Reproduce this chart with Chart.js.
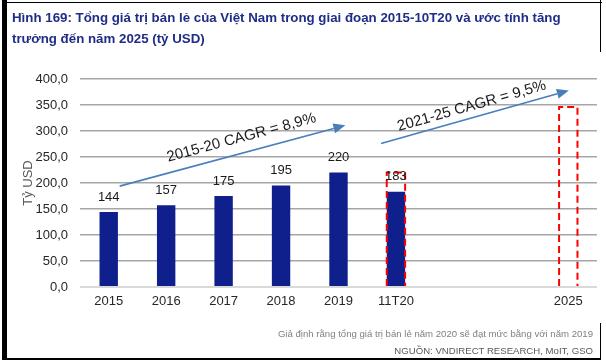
<!DOCTYPE html>
<html>
<head>
<meta charset="utf-8">
<script src="https://cdn.jsdelivr.net/npm/chart.js@4/dist/chart.umd.min.js"></script>
<style>
  html, body { margin: 0; padding: 0; background: #fff; }
  #wrap { position: relative; width: 606px; height: 364px; overflow: hidden; font-family: "Liberation Sans", Arial, sans-serif; }
  #c { position: absolute; left: 0; top: 0; }
  .title { position: absolute; left: 12px; font-weight: bold; font-size: 13.3px; color: #1f2d86; white-space: nowrap; line-height: 16px; }
  .foot { position: absolute; right: 13px; font-size: 9.6px; white-space: nowrap; line-height: 12px; }
  .b { position: absolute; background: #000; }
</style>
</head>
<body>
<div id="wrap">
  <canvas id="c" width="606" height="364"></canvas>
  <div class="title" style="top:10px;">Hình 169: Tổng giá trị bán lẻ của Việt Nam trong giai đoạn 2015-10T20 và ước tính tăng</div>
  <div class="title" style="top:31px;">trưởng đến năm 2025 (tỷ USD)</div>
  <div class="foot" style="top:328px; color:#808080;">Giả định rằng tổng giá trị bán lẻ năm 2020 sẽ đạt mức bằng với năm 2019</div>
  <div class="foot" style="top:345px; color:#595959;">NGUỒN: VNDIRECT RESEARCH, MoIT, GSO</div>
  <div class="b" style="left:2px; top:0; width:5px; height:360px;"></div>
  <div class="b" style="left:2px; top:2px; width:600px; height:1px;"></div>
  <div class="b" style="left:600px; top:0; width:1px; height:52px;"></div>
  <div class="b" style="left:600px; top:323px; width:1px; height:36px;"></div>
  <div class="b" style="left:2px; top:358px; width:599px; height:2px;"></div>
</div>
<script>
// ---- data ----
const categories = ['2015', '2016', '2017', '2018', '2019', '11T20', '', '', '2025'];
const retailValues = [144, 157, 175, 195, 220, 183, null, null, null];
const projectedValues = [null, null, null, null, null, 220, null, null, 346];
const cagrLabels = ['2015-20 CAGR = 8,9%', '2021-25 CAGR = 9,5%'];

// annotation anchors in data space (category index, value)
const cagrArrows = [
  { from: [0.19, 194], to: [4.12, 311], text: [2.31, 287] },
  { from: [4.74, 276], to: [8.01, 378], text: [6.32, 348] }
];

const fmt = v => v.toFixed(1).replace('.', ',');

const overlay = {
  id: 'overlay',
  afterDatasetsDraw(chart) {
    const ctx = chart.ctx;
    const xs = chart.scales.x, ys = chart.scales.y;
    // dashed projection boxes
    const meta1 = chart.getDatasetMeta(1);
    ctx.save();
    ctx.strokeStyle = '#ff0000';
    ctx.lineWidth = 2;
    ctx.setLineDash([7, 4]);
    meta1.data.forEach((bar, i) => {
      if (projectedValues[i] == null) return;
      const p = bar.getProps(['x', 'y', 'base', 'width'], true);
      const l = p.x - p.width / 2, r = p.x + p.width / 2;
      ctx.beginPath();
      ctx.moveTo(l, p.base); ctx.lineTo(l, p.y); ctx.lineTo(r, p.y); ctx.lineTo(r, p.base);
      ctx.stroke();
    });
    ctx.restore();

    // value labels
    const meta0 = chart.getDatasetMeta(0);
    ctx.save();
    ctx.font = '13px "Liberation Sans", Arial, sans-serif';
    ctx.fillStyle = '#1a1a1a';
    ctx.textAlign = 'center';
    ctx.textBaseline = 'middle';
    meta0.data.forEach((bar, i) => {
      if (retailValues[i] == null) return;
      ctx.fillText(String(retailValues[i]), bar.x, bar.y - 15);
    });
    ctx.restore();

    // CAGR arrows + text
    cagrArrows.forEach((a, k) => {
      const x1 = xs.getPixelForValue(a.from[0]), y1 = ys.getPixelForValue(a.from[1]);
      const x2 = xs.getPixelForValue(a.to[0]), y2 = ys.getPixelForValue(a.to[1]);
      const ang = Math.atan2(y2 - y1, x2 - x1);
      ctx.save();
      ctx.strokeStyle = '#4a7ebb';
      ctx.fillStyle = '#4a7ebb';
      ctx.lineWidth = 1.6;
      const hl = 12, hw = 5;
      const bx = x2 - hl * Math.cos(ang), by = y2 - hl * Math.sin(ang);
      ctx.beginPath(); ctx.moveTo(x1, y1); ctx.lineTo(bx, by); ctx.stroke();
      ctx.beginPath();
      ctx.moveTo(x2, y2);
      ctx.lineTo(bx + hw * Math.sin(ang), by - hw * Math.cos(ang));
      ctx.lineTo(bx - hw * Math.sin(ang), by + hw * Math.cos(ang));
      ctx.closePath(); ctx.fill();
      ctx.restore();

      const tx = xs.getPixelForValue(a.text[0]), ty = ys.getPixelForValue(a.text[1]);
      ctx.save();
      ctx.translate(tx, ty);
      ctx.rotate(ang);
      ctx.font = '15px "Liberation Sans", Arial, sans-serif';
      ctx.fillStyle = '#1a1a1a';
      ctx.textAlign = 'center';
      ctx.textBaseline = 'middle';
      ctx.fillText(cagrLabels[k], 0, 0);
      ctx.restore();
    });
  }
};

new Chart(document.getElementById('c'), {
  type: 'bar',
  data: {
    labels: categories,
    datasets: [
      { data: retailValues, backgroundColor: '#0f1f8c', borderWidth: 0 },
      { data: projectedValues, backgroundColor: 'rgba(0,0,0,0)', borderWidth: 0 }
    ]
  },
  options: {
    responsive: false,
    animation: false,
    events: [],
    layout: { padding: { left: 0, right: 9, top: 79, bottom: 0 } },
    datasets: { bar: { grouped: false, barPercentage: 0.32, categoryPercentage: 1 } },
    plugins: { legend: { display: false }, tooltip: { enabled: false } },
    scales: {
      x: {
        grid: { display: false, drawTicks: false },
        border: { display: false },
        ticks: { padding: 7, color: '#262626', font: { size: 13, family: '"Liberation Sans", Arial, sans-serif' }, autoSkip: false, maxRotation: 0 },
        afterFit(s) { s.height = 77; }
      },
      y: {
        min: 0, max: 400,
        ticks: { stepSize: 50, padding: 12, color: '#262626', font: { size: 13, family: '"Liberation Sans", Arial, sans-serif' }, callback: v => fmt(v) },
        grid: {
          drawTicks: false,
          color: c => c.tick && c.tick.value === 0 ? '#d9d9d9' : '#a6a6a6',
          lineWidth: c => c.tick && c.tick.value === 0 ? 2 : 1.5
        },
        border: { display: false },
        title: { display: true, text: 'Tỷ USD', color: '#595959', font: { size: 13, family: '"Liberation Sans", Arial, sans-serif' }, padding: { top: 21, bottom: 0 } },
        afterFit(s) { s.width = 80; }
      }
    }
  },
  plugins: [overlay]
});
</script>
</body>
</html>
